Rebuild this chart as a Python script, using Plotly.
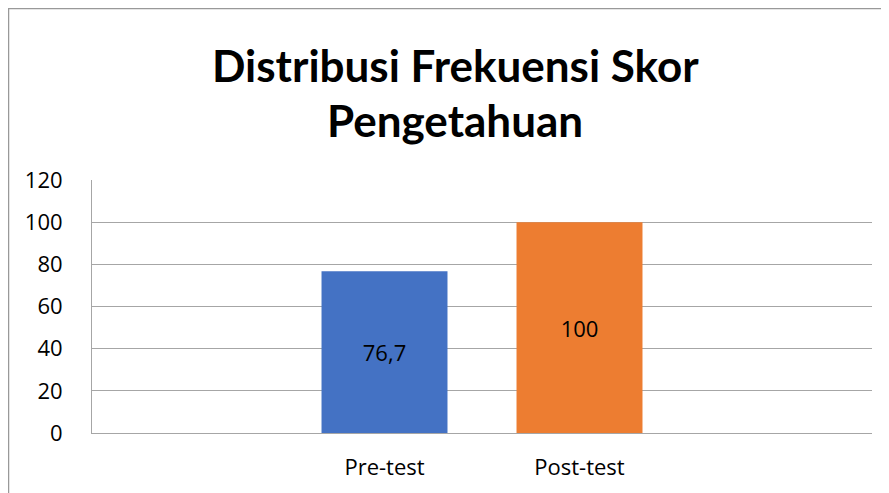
import plotly.graph_objects as go

categories = ["Pre-test", "Post-test"]
values = [76.7, 100]
value_labels = ["76,7", "100"]
colors = ["#4472C4", "#ED7D31"]
y_ticks = [0, 20, 40, 60, 80, 100, 120]
title_lines = ["Distribusi Frekuensi Skor", "Pengetahuan"]

W, H = 889, 493
OFF = 8  # page body margin
# target screen coordinates of the plot area
SX0, SX1, SY0, SY1 = 92, 872, 180, 433
L = SX0 - OFF
R = W - (SX1 - OFF)
T = SY0 - OFF
B = H - (SY1 - OFF)
pw, ph = W - L - R, H - T - B

def px_x(sx):
    return (sx - OFF - L) / pw

def px_y(sy):
    return (H - B - (sy - OFF)) / ph

FONT = "Lato"
TFONT = "Open Sans"

fig = go.Figure()
fig.add_trace(go.Bar(
    x=categories, y=values, marker=dict(color=colors, line=dict(width=0)),
    width=0.646, text=value_labels, textposition="inside",
    insidetextanchor="middle", textangle=0,
    textfont=dict(family=TFONT, size=22, color="black"),
    hoverinfo="skip",
))

fig.update_layout(
    width=W, height=H,
    margin=dict(l=L, r=R, t=T, b=B, pad=0),
    paper_bgcolor="white", plot_bgcolor="white",
    showlegend=False,
    font=dict(family=TFONT, color="black"),
    xaxis=dict(type="category", range=[-1.5, 2.5], showgrid=False,
               showline=True, linecolor="#a6a6a6", linewidth=1,
               ticks="", tickfont=dict(size=22, family=TFONT, color="black"),
               ticklabelstandoff=15, fixedrange=True),
    yaxis=dict(range=[0, 120], tickvals=y_ticks, showgrid=True,
               gridcolor="#a6a6a6", gridwidth=1, showline=True,
               linecolor="#a6a6a6", linewidth=1, zeroline=False,
               ticks="", tickfont=dict(size=22, family=TFONT, color="black"),
               ticklabelstandoff=24, fixedrange=True),
    shapes=[dict(type="rect", xref="paper", yref="paper",
                 x0=px_x(8.5), x1=px_x(W + 30), y0=px_y(H + 30), y1=px_y(8.5),
                 line=dict(color="#999999", width=1.5), fillcolor="rgba(0,0,0,0)",
                 layer="below")],
    annotations=[
        dict(text=f"<b>{title_lines[0]}</b>", xref="paper", yref="paper",
             x=px_x(455), y=px_y(65), showarrow=False,
             font=dict(family=FONT, size=44, color="black"),
             xanchor="center", yanchor="middle"),
        dict(text=f"<b>{title_lines[1]}</b>", xref="paper", yref="paper",
             x=px_x(455), y=px_y(120), showarrow=False,
             font=dict(family=FONT, size=44, color="black"),
             xanchor="center", yanchor="middle"),
    ],
)

fig.write_html("out.html")
